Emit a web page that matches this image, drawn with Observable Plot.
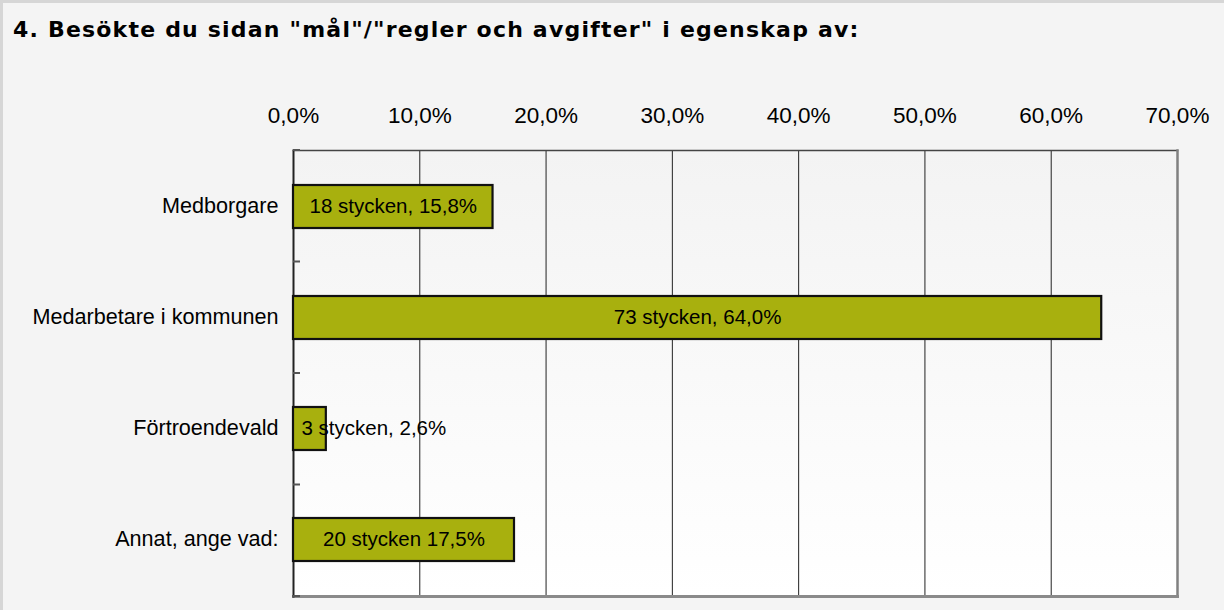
<!DOCTYPE html>
<html>
<head>
<meta charset="utf-8">
<script src="https://cdn.jsdelivr.net/npm/d3@7"></script>
<script src="https://cdn.jsdelivr.net/npm/@observablehq/plot@0.6"></script>
<style>
  html, body { margin: 0; padding: 0; background: #f4f4f4; }
  #wrap { position: relative; width: 1224px; height: 610px; overflow: hidden; background: #f4f4f4; }
  #edge { position: absolute; left: 0; top: 0; width: 1224px; height: 610px; box-sizing: border-box; border-top: 3px solid #d6d6d6; border-left: 3px solid #d6d6d6; pointer-events: none; }
  #title { position: absolute; left: 13px; top: 17px; font-family: "DejaVu Sans", Verdana, sans-serif; font-weight: bold; font-size: 22px; line-height: 26px; letter-spacing: 1.2px; color: #000; white-space: nowrap; }
  #chart { position: absolute; left: 0; top: 60px; }
</style>
</head>
<body>
<div id="wrap">
  <div id="title">4. Besökte du sidan "mål"/"regler och avgifter" i egenskap av:</div>
  <div id="chart"></div>
  <div id="edge"></div>
</div>
<script>
const categories = ["Medborgare", "Medarbetare i kommunen", "Förtroendevald", "Annat, ange vad:"];
const counts = [18, 73, 3, 20];
const percents = [15.8, 64.0, 2.6, 17.5];
const barLabels = ["18 stycken, 15,8%", "73 stycken, 64,0%", "3 stycken, 2,6%", "20 stycken 17,5%"];
const xTicks = [0, 10, 20, 30, 40, 50, 60, 70];

const rows = categories.map((c, i) => ({category: c, count: counts[i], pct: percents[i], label: barLabels[i]}));
const fmt = d => d.toFixed(1).replace(".", ",") + "%";

const chart = Plot.plot({
  width: 1224,
  height: 550,
  marginLeft: 293,
  marginRight: 47,
  marginTop: 90,
  marginBottom: 14,
  style: {background: "transparent", fontFamily: "'Liberation Sans', Arial, sans-serif", color: "#000"},
  x: {domain: [0, 70], ticks: xTicks, tickFormat: fmt},
  y: {domain: categories, padding: 0},
  marks: [
    Plot.frame({fill: "url(#plotbg)", stroke: null}),
    Plot.ruleX(xTicks.slice(1, -1), {stroke: "#222", strokeWidth: 1}),
    Plot.frame({anchor: "top", stroke: "#444", strokeWidth: 1.5}),
    Plot.frame({anchor: "right", stroke: "#808080", strokeWidth: 2.5}),
    Plot.frame({anchor: "bottom", stroke: "#8a8a8a", strokeWidth: 3}),
    Plot.frame({anchor: "left", stroke: "#222", strokeWidth: 2}),
    Plot.barX(rows, {x: "pct", y: "category", fill: "#a8b00e", stroke: "#111", strokeWidth: 2.2, insetTop: 34, insetBottom: 34}),
    Plot.text(rows.filter(d => d.pct >= 5), {x: d => d.pct / 2, y: "category", text: "label", fontSize: 20.5, fill: "#000", dy: -1}),
    Plot.text(rows.filter(d => d.pct < 5), {x: 0, y: "category", text: "label", fontSize: 20.5, fill: "#000", textAnchor: "start", dx: 8, dy: -1}),
    Plot.axisX({anchor: "top", ticks: xTicks, tickFormat: fmt, tickSize: 0, tickPadding: 28, fontSize: 22.5, label: null}),
    Plot.axisY({tickSize: 0, tickPadding: 15, fontSize: 21.6, label: null, dy: -1})
  ]
});

// gradient background of the plot area
const svg = d3.select(chart.tagName.toLowerCase() === "svg" ? chart : chart.querySelector("svg"));
const defs = svg.insert("defs", ":first-child");
const grad = defs.append("linearGradient").attr("id", "plotbg").attr("x1", 0).attr("y1", 0).attr("x2", 0).attr("y2", 1);
grad.append("stop").attr("offset", "0%").attr("stop-color", "#f3f3f3");
grad.append("stop").attr("offset", "100%").attr("stop-color", "#ffffff");

// small category-boundary ticks on the y axis, from the plot's own y scale
const ys = chart.scale("y");
const xs = chart.scale("x");
const band = d3.scaleBand().domain(ys.domain).range(ys.range).padding(0);
const bounds = categories.map(c => band(c)).concat([band(categories[categories.length - 1]) + band.bandwidth()]);
svg.append("g").selectAll("line").data(bounds).join("line")
  .attr("x1", xs.range[0]).attr("x2", xs.range[0] + 7)
  .attr("y1", d => d).attr("y2", d => d)
  .attr("stroke", "#555").attr("stroke-width", 2);

document.getElementById("chart").appendChild(chart);
</script>
</body>
</html>
